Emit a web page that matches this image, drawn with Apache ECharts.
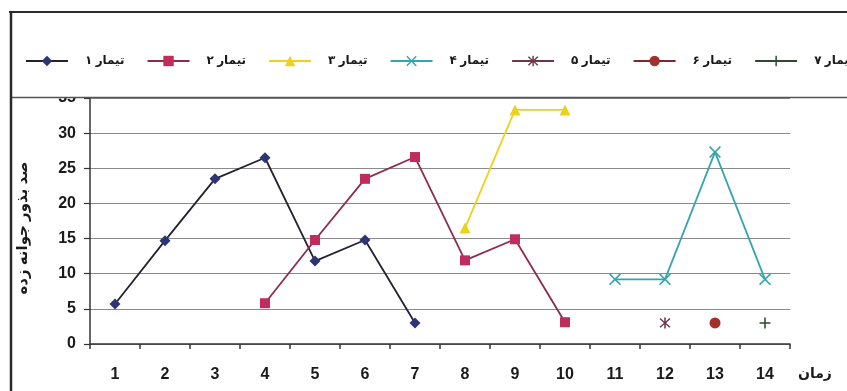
<!DOCTYPE html>
<html>
<head>
<meta charset="utf-8">
<script src="https://cdn.jsdelivr.net/npm/echarts@6/dist/echarts.min.js"></script>
<style>
  html, body { margin: 0; padding: 0; background: #fff; }
  #chart { width: 847px; height: 391px; }
</style>
</head>
<body>
<div id="chart"></div>
<script>
// Time steps on the horizontal axis
const timeSteps = ['1', '2', '3', '4', '5', '6', '7', '8', '9', '10', '11', '12', '13', '14'];

// Germination percentage per treatment (null where a treatment has no reading)
const treatment1 = [5.7, 14.7, 23.5, 26.5, 11.8, 14.8, 3.0, null, null, null, null, null, null, null];
const treatment2 = [null, null, null, 5.8, 14.8, 23.5, 26.6, 11.9, 14.9, 3.1, null, null, null, null];
const treatment3 = [null, null, null, null, null, null, null, 16.5, 33.3, 33.3, null, null, null, null];
const treatment4 = [null, null, null, null, null, null, null, null, null, null, 9.2, 9.2, 27.3, 9.2];
const treatment5 = [null, null, null, null, null, null, null, null, null, null, null, 3.0, null, null];
const treatment6 = [null, null, null, null, null, null, null, null, null, null, null, null, 3.0, null];
const treatment7 = [null, null, null, null, null, null, null, null, null, null, null, null, null, 3.0];

const seriesNames = ['تیمار ۱', 'تیمار ۲', 'تیمار ۳', 'تیمار ۴', 'تیمار ۵', 'تیمار ۶', 'تیمار ۷'];
const yTicks = [0, 5, 10, 15, 20, 25, 30, 35];

const FONT = '"Liberation Sans", "DejaVu Sans", Arial, sans-serif';

// Filled outline shapes for the cross-type markers
const X_PATH = 'path://M0,1L1,0L5,4L9,0L10,1L6,5L10,9L9,10L5,6L1,10L0,9L4,5Z';
const STAR_PATH = 'path://M0,1.5L1,0.5L5,4.3L9,0.5L10,1.5L6,5L10,8.5L9,9.5L5,5.7L1,9.5L0,8.5L4,5Z M4.3,0H5.7V10H4.3Z';
const PLUS_PATH = 'path://M4.3,0H5.7V4.3H10V5.7H5.7V10H4.3V5.7H0V4.3H4.3Z';

function lineSeries(name, data, lineColor, markColor, symbol, size) {
  return {
    name: name,
    type: 'line',
    data: data,
    symbol: symbol,
    symbolSize: size,
    showAllSymbol: true,
    connectNulls: false,
    lineStyle: { color: lineColor, width: 1.8 },
    itemStyle: { color: markColor, borderColor: markColor, borderWidth: 0 },
    emphasis: { disabled: true },
    z: 3
  };
}

const chart = echarts.init(document.getElementById('chart'), null, { renderer: 'canvas' });

chart.setOption({
  animation: false,
  backgroundColor: '#ffffff',
  grid: { left: 90, right: 57, top: 98, bottom: 47, containLabel: false },
  legend: {
    left: 20,
    top: 50,
    width: 1200,
    orient: 'horizontal',
    itemWidth: 42,
    itemHeight: 13,
    itemGap: 22,
    z: 20,
    textStyle: { fontFamily: FONT, fontWeight: 'bold', fontSize: 12, color: '#1a1a1a', padding: [0, 0, 0, 12] },
    data: seriesNames
  },
  xAxis: {
    type: 'category',
    data: timeSteps,
    boundaryGap: true,
    name: 'زمان',
    nameLocation: 'end',
    nameGap: 8,
    nameTextStyle: { fontFamily: FONT, fontWeight: 'bold', fontSize: 14, color: '#1a1a1a', verticalAlign: 'top', padding: [23, 0, 0, 0] },
    axisLine: { lineStyle: { color: '#333', width: 1.5 } },
    axisTick: { show: true, inside: false, length: 5, alignWithLabel: false, lineStyle: { color: '#333', width: 1.5 } },
    axisLabel: { fontFamily: FONT, fontWeight: 'bold', fontSize: 16, color: '#1a1a1a', margin: 23 },
    splitLine: { show: false }
  },
  yAxis: {
    type: 'value',
    min: yTicks[0],
    max: yTicks[yTicks.length - 1],
    interval: 5,
    name: 'صد بذور جوانه زده',
    nameLocation: 'middle',
    nameRotate: 90,
    nameGap: 60,
    nameTextStyle: { fontFamily: FONT, fontWeight: 'bold', fontSize: 15, color: '#1a1a1a', padding: [0, 14, 0, 0] },
    axisLine: { show: true, lineStyle: { color: '#333', width: 1.5 } },
    axisTick: { show: true, length: 6, lineStyle: { color: '#333', width: 1.2 } },
    axisLabel: { fontFamily: FONT, fontWeight: 'bold', fontSize: 16, color: '#1a1a1a', margin: 14 },
    splitLine: { show: true, lineStyle: { color: '#8a8a8a', width: 1.2 } }
  },
  graphic: [
    // legend panel sitting over the top of the plot
    {
      type: 'rect', z: 10,
      shape: { x: 11, y: 12, width: 850, height: 86 },
      style: { fill: '#ffffff', stroke: null }
    },
    {
      type: 'line', z: 11,
      shape: { x1: 10, y1: 97.5, x2: 847, y2: 97.5 },
      style: { stroke: '#555', lineWidth: 1.5 }
    },
    // outer frame
    {
      type: 'line', z: 11,
      shape: { x1: 9, y1: 12, x2: 847, y2: 12 },
      style: { stroke: '#2a2a2a', lineWidth: 2 }
    },
    {
      type: 'line', z: 11,
      shape: { x1: 11, y1: 11, x2: 11, y2: 391 },
      style: { stroke: '#2a2a2a', lineWidth: 2.5 }
    }
  ],
  series: [
    lineSeries(seriesNames[0], treatment1, '#22232f', '#2d3672', 'diamond', 11),
    lineSeries(seriesNames[1], treatment2, '#8c2d4e', '#c02c5c', 'rect', 10),
    lineSeries(seriesNames[2], treatment3, '#ecd21e', '#ecd21e', 'triangle', 11),
    lineSeries(seriesNames[3], treatment4, '#35a5ae', '#35a5ae', X_PATH, 12),
    lineSeries(seriesNames[4], treatment5, '#6e3848', '#6e3848', STAR_PATH, 11),
    lineSeries(seriesNames[5], treatment6, '#7a2a2a', '#a2302c', 'circle', 11),
    lineSeries(seriesNames[6], treatment7, '#2e4a30', '#2e4a30', PLUS_PATH, 11)
  ]
});
</script>
</body>
</html>
